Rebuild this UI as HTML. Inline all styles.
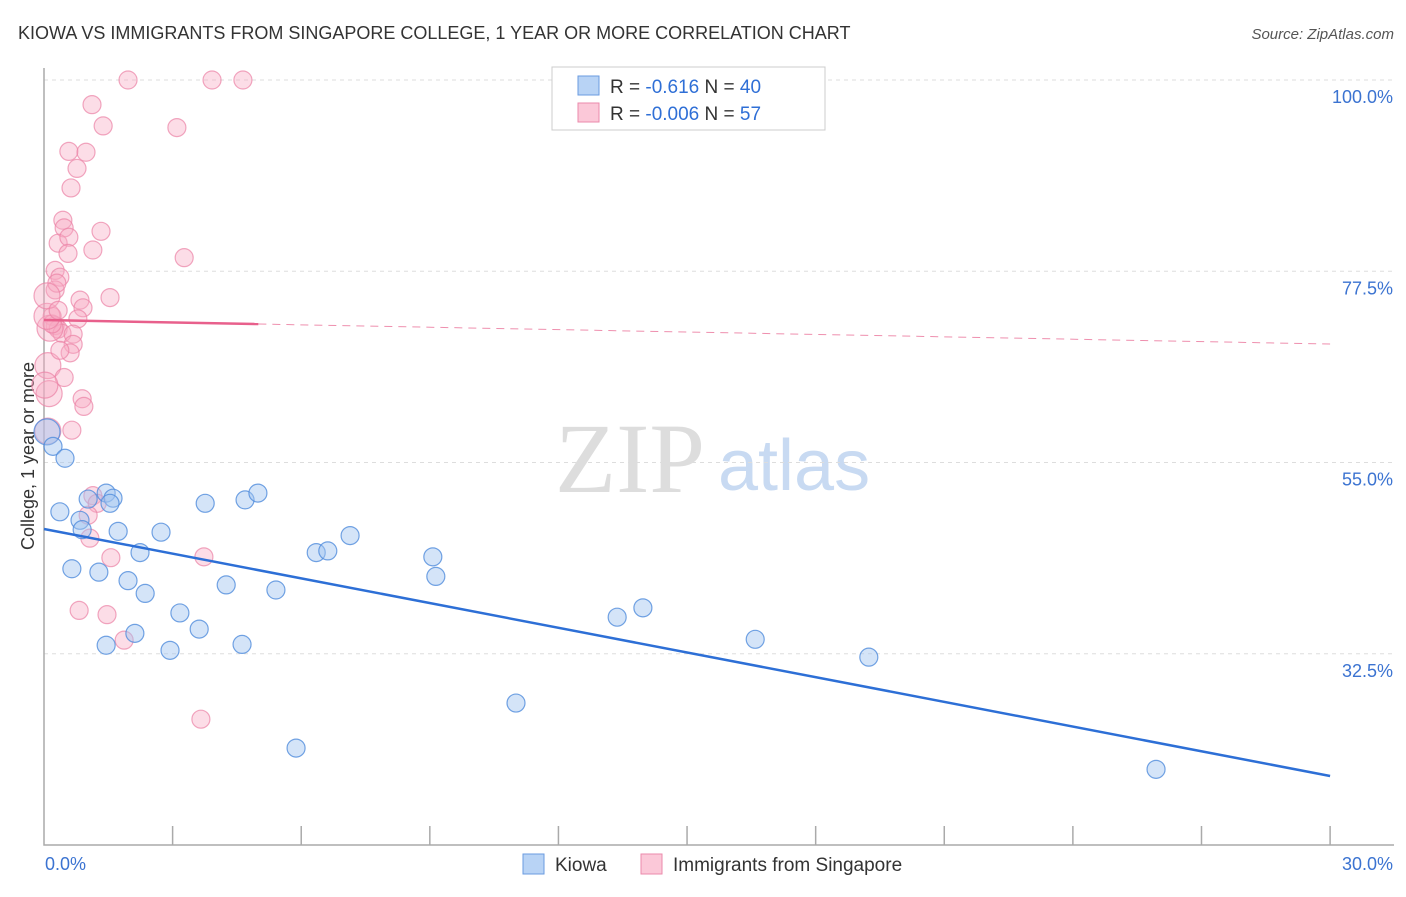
<!DOCTYPE html>
<html><head><meta charset="utf-8"><style>
body{margin:0;background:#fff;font-family:"Liberation Sans",sans-serif}
</style></head><body>
<svg width="1406" height="892" xmlns="http://www.w3.org/2000/svg" id="c">
<text x="18" y="39" font-size="18" fill="#333">KIOWA VS IMMIGRANTS FROM SINGAPORE COLLEGE, 1 YEAR OR MORE CORRELATION CHART</text>
<text x="1394" y="39" font-size="15" fill="#555" text-anchor="end" font-style="italic">Source: ZipAtlas.com</text>
<text x="555" y="492" font-size="100" fill="#ddd" font-family="Liberation Serif">ZIP</text>
<text x="718" y="490" font-size="72" fill="#c8daf2">atlas</text>
<text transform="translate(34,456) rotate(-90)" font-size="18" fill="#333" text-anchor="middle">College, 1 year or more</text>
<g id="grid"></g><g id="pts"></g><g id="trend"></g>
<g>
<rect x="552" y="67" width="273" height="63" fill="#fff" stroke="#ccc"/>
<rect x="578" y="76" width="21" height="19" fill="#b8d3f5" stroke="#6a9be0"/>
<rect x="578" y="103" width="21" height="19" fill="#fbc8d8" stroke="#eb8aab"/>
<text x="610" y="93" font-size="19" fill="#333">R =  <tspan fill="#2f6fd6">-0.616</tspan>   N = <tspan fill="#2f6fd6">40</tspan></text>
<text x="610" y="120" font-size="19" fill="#333">R = <tspan fill="#2f6fd6">-0.006</tspan>   N =  <tspan fill="#2f6fd6">57</tspan></text>
</g>
<g>
<rect x="523" y="854" width="21" height="20" fill="#b8d3f5" stroke="#6a9be0"/>
<text x="555" y="871" font-size="19" fill="#333">Kiowa</text>
<rect x="641" y="854" width="21" height="20" fill="#fbc8d8" stroke="#eb8aab"/>
<text x="673" y="871" font-size="19" fill="#333">Immigrants from Singapore</text>
</g>
</svg>
<script>
const yTicks=[100,77.5,55,32.5];
const xTickLabels=["0.0%","30.0%"];
const kiowaX=[0.07,0.21,0.49,0.37,0.84,0.89,0.65,1.28,1.45,1.61,1.54,1.73,1.96,2.24,2.36,2.73,3.17,3.62,3.76,4.25,4.69,4.99,4.62,5.41,6.35,6.62,7.14,9.07,9.14,11.01,5.88,13.37,13.97,16.59,19.24,25.94,1.45,2.12,2.94,1.03];
const kiowaY=[58.6,56.9,55.5,49.2,48.2,47.1,42.5,42.1,51.4,50.8,50.2,46.9,41.1,44.4,39.6,46.8,37.3,35.4,50.2,40.6,50.6,51.4,33.6,40.0,44.4,44.6,46.4,43.9,41.6,26.7,21.4,36.8,37.9,34.2,32.1,18.9,33.5,34.9,32.9];
kiowaY.splice(39,0,50.7);
const singX=[1.96,3.92,4.64,1.12,1.38,3.10,0.58,0.98,0.77,0.63,0.44,0.47,0.33,0.58,1.33,1.14,0.56,3.27,0.26,0.37,0.26,0.30,1.54,0.84,0.91,0.19,0.79,0.26,0.33,0.42,0.68,0.68,0.61,0.09,0.47,0.12,0.89,0.93,0.65,0.09,1.14,1.24,1.03,1.07,1.56,3.73,0.82,1.47,1.87,3.66,0.14,0.19,0.07,0.07,0.02,0.37,0.33];
const singY=[100,100,100,97.1,94.6,94.4,91.6,91.5,89.6,87.3,83.5,82.6,80.8,81.5,82.2,80.0,79.6,79.1,77.6,76.8,75.3,76.1,74.4,74.1,73.2,72.2,71.9,71.1,70.7,70.2,70.1,68.9,67.9,66.4,65.0,63.1,62.5,61.6,58.8,58.7,51.1,50.2,48.8,46.1,43.8,43.9,37.6,37.1,34.1,24.8,70.8,71.3,72.2,74.6,64.1,68.2,72.9];
const kiowaTrend=[47.18,18.12];
const singTrend=[71.76,68.94];
const X=v=>44+v*42.87, Y=v=>80+(100-v)*8.5;
const NS="http://www.w3.org/2000/svg";
function mk(t,a,p){const e=document.createElementNS(NS,t);for(const k in a)e.setAttribute(k,a[k]);p.appendChild(e);return e;}
const g=document.getElementById('grid');
yTicks.forEach(v=>{
 const l=mk('line',{x1:44,x2:1394,y1:Y(v),y2:Y(v),stroke:'#ddd','stroke-dasharray':'4,4'},g);
 
 
 const t=mk('text',{x:1393,y:Y(v)+23,'font-size':18,fill:'#3b73d1','text-anchor':'end'},g);
 t.textContent=v.toFixed(1)+'%';
 
 
});
const ax=mk('path',{d:'M44,68V845H1394',stroke:'#aaa',fill:'none','stroke-width':1.5},g);


for(let i=1;i<=10;i++){const t=mk('line',{x1:X(i*3),x2:X(i*3),y1:826,y2:845,stroke:'#aaa','stroke-width':1.5},g);
 
 }
[[0,'start',45],[30,'end',1393]].forEach((d,i)=>{const t=mk('text',{x:d[2],y:870,'font-size':18,fill:'#3b73d1','text-anchor':d[1]},g);t.textContent=xTickLabels[i];
 
 });
const p=document.getElementById('pts');
singX.forEach((x,i)=>{const c=mk('circle',{cx:X(x),cy:Y(singY[i]),r:(x<0.15?13:9),fill:'rgba(248,170,195,0.4)',stroke:'rgba(235,130,165,0.7)','stroke-width':1.2},p);
 
 });
kiowaX.forEach((x,i)=>{const c=mk('circle',{cx:X(x),cy:Y(kiowaY[i]),r:(x<0.1?13:9),fill:'rgba(160,195,240,0.45)',stroke:'rgba(80,140,220,0.8)','stroke-width':1.2},p);
 
 });
const tr=document.getElementById('trend');
let l=mk('line',{x1:X(0),y1:Y(kiowaTrend[0]),x2:X(30),y2:Y(kiowaTrend[1]),stroke:'#2d6fd6','stroke-width':2.5},tr);


const sy=x=>singTrend[0]+(singTrend[1]-singTrend[0])*x/30;
l=mk('line',{x1:X(0),y1:Y(sy(0)),x2:X(5),y2:Y(sy(5)),stroke:'#e8608c','stroke-width':2.5},tr);


l=mk('line',{x1:X(5),y1:Y(sy(5)),x2:X(30),y2:Y(sy(30)),stroke:'#e8608c','stroke-width':1,'stroke-dasharray':'8,6',opacity:0.7},tr);


</script>
</body></html>
